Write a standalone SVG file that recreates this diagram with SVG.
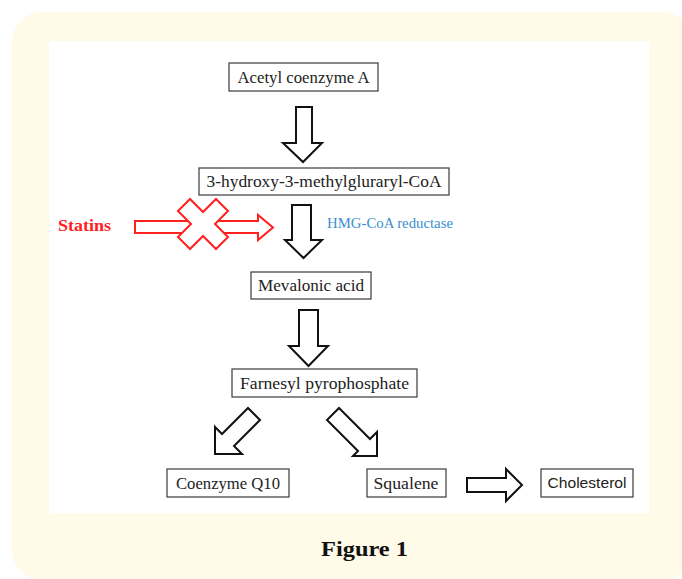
<svg xmlns="http://www.w3.org/2000/svg" width="682" height="579" viewBox="0 0 682 579">
<style>
.box{fill:#fff;stroke:#3a3a3a;stroke-width:1.2}
.t{font-family:"Liberation Serif","DejaVu Serif",serif;font-size:16px;fill:#222;text-anchor:middle}
.ts{font-family:"Liberation Sans","Open Sans",sans-serif;font-size:15px;fill:#222;text-anchor:middle}
.arr{fill:#fff;stroke:#111;stroke-width:2;stroke-linejoin:miter}
.red{fill:#fff;stroke:#ff2020;stroke-width:2;stroke-linejoin:miter}
</style>
<rect x="12" y="12" width="680" height="568" rx="30" fill="#fffbe8"/>
<rect x="49" y="41" width="600" height="472" fill="#fff"/>
<g id="connectors">
<polygon class="arr" points="296,107 312,107 312,143 322,143 303,162 283,143 296,143"/>
<polygon class="arr" points="292,205 311,205 311,240 322,240 303.5,258 285,240 292,240"/>
<polygon class="arr" points="299,310 318,310 318,346 328,346 308.5,366 289,346 299,346"/>
<polygon class="arr" points="248,408 260,420 234,446 242,454 215,454 215,427 222,434"/>
<polygon class="arr" points="339,408 370,439 377,432 377,456 353,456 358,451 327,420"/>
<polygon class="arr" points="467,478 506,478 506,469 522,485 506,501 506,492 467,492"/>
</g>
<g id="statins">
<text x="58" y="231" font-family="Liberation Serif,serif" font-weight="bold" font-size="17" fill="#ff2020" textLength="53" lengthAdjust="spacingAndGlyphs">Statins</text>
<polygon class="red" points="135,221 258,221 258,215 273,227.5 258,240 258,233 135,233"/>
<polygon class="red" points="178,211 190,199 203,212 216,199 228,211 215,224 228,237 216,249 203,236 190,249 178,237 191,224"/>
</g>
<g id="hmg-label">
<text x="327" y="228" font-family="Liberation Serif,serif" font-size="14.5" fill="#3a8fd0" textLength="126" lengthAdjust="spacingAndGlyphs">HMG-CoA reductase</text>
</g>
<g id="acetyl">
<rect class="box" x="229" y="63" width="149" height="28"/>
<text class="t" x="303.5" y="83" textLength="132" lengthAdjust="spacingAndGlyphs">Acetyl coenzyme A</text>
</g>
<g id="hmgcoa">
<rect class="box" x="199" y="168" width="250" height="27"/>
<text class="t" x="324" y="187" textLength="235" lengthAdjust="spacingAndGlyphs">3-hydroxy-3-methylgluraryl-CoA</text>
</g>
<g id="mevalonic">
<rect class="box" x="251" y="272" width="120" height="27"/>
<text class="t" x="311" y="291" textLength="106" lengthAdjust="spacingAndGlyphs">Mevalonic acid</text>
</g>
<g id="farnesyl">
<rect class="box" x="232" y="369" width="185" height="28"/>
<text class="t" x="324.5" y="389" textLength="169" lengthAdjust="spacingAndGlyphs">Farnesyl pyrophosphate</text>
</g>
<g id="coq10">
<rect class="box" x="167" y="469" width="122" height="28"/>
<text class="t" x="228" y="489" textLength="104" lengthAdjust="spacingAndGlyphs">Coenzyme Q10</text>
</g>
<g id="squalene">
<rect class="box" x="367" y="469" width="79" height="28"/>
<text class="t" x="406" y="489" textLength="65" lengthAdjust="spacingAndGlyphs">Squalene</text>
</g>
<g id="cholesterol">
<rect class="box" x="541" y="469" width="92" height="28"/>
<text class="ts" x="587" y="488" textLength="79" lengthAdjust="spacingAndGlyphs">Cholesterol</text>
</g>
<text x="364.5" y="556" font-family="Liberation Serif,serif" font-weight="bold" font-size="22" fill="#111" text-anchor="middle" textLength="87" lengthAdjust="spacingAndGlyphs">Figure 1</text>
</svg>
